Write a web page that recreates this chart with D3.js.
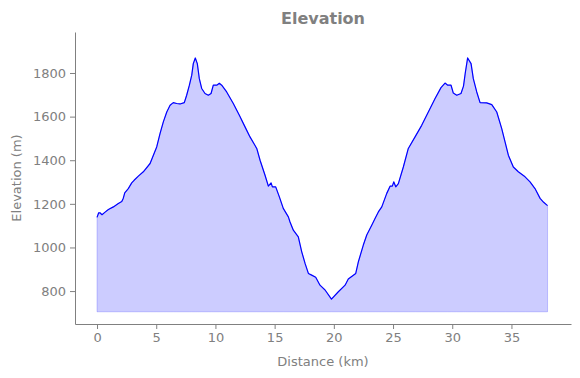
<!DOCTYPE html>
<html>
<head>
<meta charset="utf-8">
<script src="https://cdn.jsdelivr.net/npm/d3@7"></script>
<style>
  body { margin: 0; background: #fff; }
  text { font-family: "DejaVu Sans", sans-serif; }
</style>
</head>
<body>
<svg id="chart"></svg>
<script>
// distance along the route (km) and elevation (m)
let distKm = [0, 0.14, 0.25, 0.42, 0.68, 0.96, 1.38, 1.80, 2.09, 2.22, 2.34, 2.64, 2.93, 3.13, 3.49, 3.91,
  4.48, 4.76, 5.04, 5.32, 5.60, 5.89, 6.17, 6.44, 6.73, 7.01, 7.37, 7.57, 7.80, 8.00, 8.13, 8.30, 8.47,
  8.64, 8.84, 9.12, 9.40, 9.63, 9.82, 10.11, 10.33, 10.53, 10.95, 11.51, 12.02, 12.50, 12.92, 13.49,
  13.77, 14.19, 14.47, 14.70, 14.81, 15.09, 15.40, 15.73, 16.16, 16.30, 16.58, 17.00, 17.29, 17.57,
  17.85, 18.13, 18.47, 18.83, 19.26, 19.80, 20.38, 20.95, 21.22, 21.65, 21.85, 22.07, 22.49, 22.78,
  23.20, 23.48, 23.76, 24.05, 24.47, 24.75, 24.94, 25.06, 25.23, 25.45, 25.87, 26.29, 26.86, 27.42,
  27.98, 28.55, 29.05, 29.39, 29.62, 29.90, 30.09, 30.38, 30.74, 30.95, 31.10, 31.30, 31.59, 31.78,
  32.07, 32.35, 32.91, 33.34, 33.76, 34.18, 34.46, 34.74, 35.16, 35.58, 36.15, 36.57, 36.99, 37.42,
  37.72, 38.05];
let elevM = [1138, 1159, 1159, 1150, 1162, 1174, 1186, 1202, 1211, 1226, 1250, 1270, 1296, 1308, 1327, 1347,
  1385, 1423, 1461, 1522, 1576, 1621, 1652, 1664, 1660, 1658, 1664, 1698, 1744, 1790, 1843, 1869, 1843,
  1774, 1729, 1706, 1698, 1706, 1744, 1744, 1753, 1744, 1713, 1660, 1606, 1553, 1507, 1454,
  1400, 1331, 1281, 1296, 1278, 1278, 1232, 1179, 1140, 1117, 1079, 1049, 980, 927,
  881, 873, 863, 827, 805, 763, 797, 827, 855, 873, 881, 934, 1011, 1057,
  1102, 1133, 1163, 1186, 1248, 1281, 1281, 1301, 1278, 1293, 1369, 1454, 1507, 1560,
  1621, 1683, 1733, 1754, 1744, 1744, 1708, 1698, 1706, 1740, 1800, 1869, 1843, 1774,
  1713, 1664, 1663, 1655, 1621, 1545, 1484, 1423, 1369, 1347, 1324, 1301, 1270, 1225,
  1207, 1192];
let fillBase = 705;

let xTicks = [0, 5, 10, 15, 20, 25, 30, 35];
let yTicks = [800, 1000, 1200, 1400, 1600, 1800];

let width = 580;
let height = 378;
let margin = { top: 32, right: 9, bottom: 54, left: 75 };
let grey = '#808080';

let points = distKm.map((d, i) => ({ x: d, y: elevM[i] }));

let svg = d3.select('#chart')
  .attr('width', width)
  .attr('height', height);

let xScale = d3.scaleLinear()
  .domain([-1.86, 40.03])
  .range([margin.left, width - margin.right]);

let yScale = d3.scaleLinear()
  .domain([649, 1988])
  .range([height - margin.bottom, margin.top]);

// shaded area under the profile
let area = d3.area()
  .x((d) => xScale(d.x))
  .y0(yScale(fillBase))
  .y1((d) => yScale(d.y));

svg.append('path')
  .datum(points)
  .attr('d', area)
  .attr('fill', 'rgba(0,0,255,0.2)')
  .attr('stroke', 'rgba(0,0,255,0.2)')
  .attr('stroke-width', 1);

let line = d3.line()
  .x((d) => xScale(d.x))
  .y((d) => yScale(d.y));

svg.append('path')
  .datum(points)
  .attr('d', line)
  .attr('fill', 'none')
  .attr('stroke', '#0000ff')
  .attr('stroke-width', 1.2)
  .attr('stroke-linejoin', 'round');

// axes
let xAxis = d3.axisBottom(xScale)
  .tickValues(xTicks)
  .tickFormat(d3.format('d'))
  .tickSizeInner(5)
  .tickSizeOuter(0)
  .tickPadding(4);

let yAxis = d3.axisLeft(yScale)
  .tickValues(yTicks)
  .tickFormat(d3.format('d'))
  .tickSizeInner(5)
  .tickSizeOuter(0)
  .tickPadding(4);

let gx = svg.append('g')
  .attr('transform', 'translate(0,' + (height - margin.bottom) + ')')
  .call(xAxis);

let gy = svg.append('g')
  .attr('transform', 'translate(' + margin.left + ',0)')
  .call(yAxis);

[gx, gy].forEach((g) => {
  g.selectAll('path, line').attr('stroke', grey).attr('stroke-width', 1);
  g.selectAll('text')
    .attr('fill', grey)
    .style('font-size', '13px')
    .style('font-family', '"DejaVu Sans", sans-serif');
});

// title and axis labels
svg.append('text')
  .attr('x', (margin.left + width - margin.right) / 2)
  .attr('y', 24)
  .attr('text-anchor', 'middle')
  .attr('fill', grey)
  .style('font-size', '16px')
  .style('font-weight', 'bold')
  .text('Elevation');

svg.append('text')
  .attr('x', (margin.left + width - margin.right) / 2)
  .attr('y', 366)
  .attr('text-anchor', 'middle')
  .attr('fill', grey)
  .style('font-size', '13px')
  .text('Distance (km)');

svg.append('text')
  .attr('transform', 'translate(21,' + ((margin.top + height - margin.bottom) / 2) + ') rotate(-90)')
  .attr('text-anchor', 'middle')
  .attr('fill', grey)
  .style('font-size', '13px')
  .text('Elevation (m)');
</script>
</body>
</html>
